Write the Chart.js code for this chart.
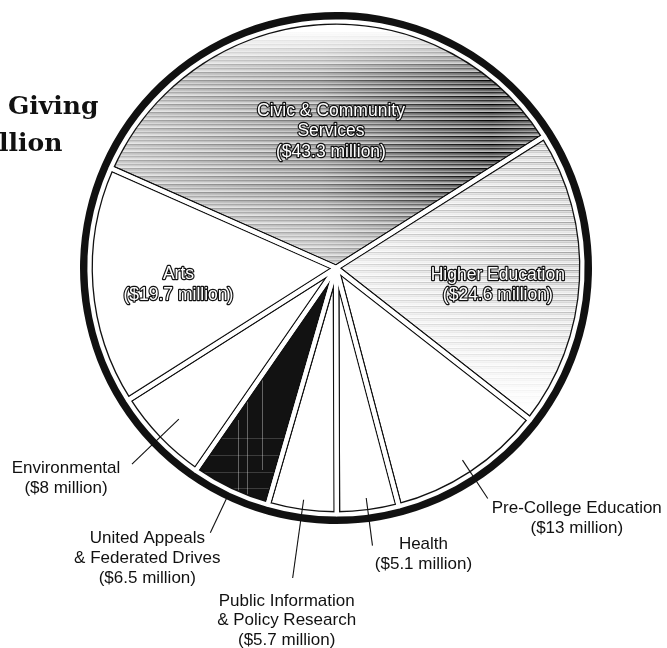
<!DOCTYPE html>
<html>
<head>
<meta charset="utf-8">
<script src="https://cdn.jsdelivr.net/npm/chart.js@4/dist/chart.umd.min.js"></script>
<style>
  html, body { margin: 0; padding: 0; background: #fff; }
  canvas { display: block; }
</style>
</head>
<body>
<canvas id="giving" width="667" height="648"></canvas>
<script>
// Giving by program area, in millions of dollars (clockwise from the top-left)
const categories = [
  'Civic & Community Services',
  'Higher Education',
  'Pre-College Education',
  'Health',
  'Public Information & Policy Research',
  'United Appeals & Federated Drives',
  'Environmental',
  'Arts'
];
const amounts = [43.3, 24.6, 13, 5.1, 5.7, 6.5, 8, 19.7];
const labelLines = [
  ['Civic & Community', 'Services'],
  ['Higher Education'],
  ['Pre-College Education'],
  ['Health'],
  ['Public Information', '& Policy Research'],
  ['United Appeals', '& Federated Drives'],
  ['Environmental'],
  ['Arts']
];
const titleLines = ['Giving', 'llion'];

// ---- label placement (polar radius along each slice's middle angle) ----
const labelLayout = [
  { inside: true, r: 137, dx: 5, dy: 0 },
  { inside: true, r: 162, dx: 0, dy: 9 },
  { r0: 230, r1: 276, dx: 89, dy: 10 },
  { r0: 232, r1: 280, dx: 51, dy: -1 },
  { r0: 234, r1: 313, dx: -6, dy: 23 },
  { r0: 255, r1: 293, dx: -63, dy: 6 },
  { r0: 218, r1: 283, dx: -66, dy: 4 },
  { inside: true, r: 158, dx: 0, dy: 5 }
];

const W = 667, H = 648;
const canvas = document.getElementById('giving');
const ctx = canvas.getContext('2d');

function texture(paint) {
  const c = document.createElement('canvas');
  c.width = W; c.height = H;
  const g = c.getContext('2d');
  paint(g);
  return ctx.createPattern(c, 'no-repeat');
}

// streaky halftone grey for the civic slice: light at the top, darkest on the right
const civicFill = texture(g => {
  g.fillStyle = '#fff';
  g.fillRect(0, 0, W, H);
  for (let y = 0; y < 300; y += 2) {
    const rise = Math.min(1, Math.max(0, (y - 30) / 50));
    const fall = y > 190 ? Math.max(0.6, 1 - (y - 190) / 120) : 1;
    const env = rise * fall;
    const k = y % 8;
    const tone = k === 0 ? 1 : k === 2 ? 0.6 : k === 4 ? 0.85 : 0.4;
    const grad = g.createLinearGradient(100, 0, 590, 0);
    grad.addColorStop(0, `rgba(0,0,0,${0.3 * env * tone})`);
    grad.addColorStop(0.45, `rgba(0,0,0,${0.55 * env * tone})`);
    grad.addColorStop(0.8, `rgba(0,0,0,${0.98 * env * tone})`);
    grad.addColorStop(1, `rgba(0,0,0,${0.75 * env * tone})`);
    g.fillStyle = grad;
    g.fillRect(0, y, W, 1.7);
  }
});

// lighter streaks for higher education, fading out toward the bottom
const higherFill = texture(g => {
  g.fillStyle = '#fff';
  g.fillRect(0, 0, W, H);
  for (let y = 120; y < 440; y += 2) {
    const env = y < 270 ? 1 : Math.max(0, 1 - (y - 270) / 140);
    const k = y % 6;
    const tone = k === 0 ? 1 : k === 2 ? 0.6 : 0.3;
    const grad = g.createLinearGradient(340, 0, 590, 0);
    grad.addColorStop(0, `rgba(0,0,0,${0.14 * env * tone})`);
    grad.addColorStop(1, `rgba(0,0,0,${0.36 * env * tone})`);
    g.fillStyle = grad;
    g.fillRect(0, y, W, 1.4);
  }
});

// near-black for united appeals, with a few scratchy light lines
const unitedFill = texture(g => {
  g.fillStyle = '#121212';
  g.fillRect(0, 0, W, H);
  g.strokeStyle = 'rgba(255,255,255,0.35)';
  g.lineWidth = 1;
  [[238, 420, 505], [247, 400, 505], [262, 380, 470]].forEach(([x, y0, y1]) => {
    g.beginPath(); g.moveTo(x + 0.5, y0); g.lineTo(x + 0.5, y1); g.stroke();
  });
  g.strokeStyle = 'rgba(255,255,255,0.18)';
  [438, 455, 472, 488].forEach(y => {
    g.beginPath(); g.moveTo(200, y + 0.5); g.lineTo(300, y + 0.5); g.stroke();
  });
});

const sliceFills = [civicFill, higherFill, '#ffffff', '#ffffff', '#ffffff', unitedFill, '#ffffff', '#ffffff'];

// white gutters between slices, leaving a thin black outline around each one
const gutters = {
  id: 'gutters',
  afterDatasetsDraw(chart) {
    const meta = chart.getDatasetMeta(1);
    const c = chart.ctx;
    c.save();
    c.strokeStyle = '#ffffff';
    c.lineWidth = 4.2;
    c.lineJoin = 'bevel';
    meta.data.forEach(arc => {
      const { x, y, startAngle, endAngle, outerRadius } =
        arc.getProps(['x', 'y', 'startAngle', 'endAngle', 'outerRadius'], true);
      c.beginPath();
      c.moveTo(x, y);
      c.arc(x, y, outerRadius, startAngle, endAngle);
      c.closePath();
      c.stroke();
    });
    c.restore();
  }
};

const labels = {
  id: 'labels',
  afterDraw(chart) {
    const c = chart.ctx;
    const meta = chart.getDatasetMeta(1);
    c.save();

    // heading fragments
    c.fillStyle = '#111';
    c.font = 'bold 25px "DejaVu Serif", serif';
    c.textAlign = 'left';
    c.textBaseline = 'alphabetic';
    c.fillText(titleLines[0], 8, 114);
    c.fillText(titleLines[1], -1, 151);

    meta.data.forEach((arc, i) => {
      const { x, y, startAngle, endAngle } =
        arc.getProps(['x', 'y', 'startAngle', 'endAngle'], true);
      const mid = (startAngle + endAngle) / 2;
      const cos = Math.cos(mid), sin = Math.sin(mid);
      const L = labelLayout[i];
      const lines = labelLines[i].concat([`($${amounts[i]} million)`]);
      c.textAlign = 'center';
      c.textBaseline = 'middle';

      if (L.inside) {
        const lh = 20.5;
        const cx = x + cos * L.r + L.dx;
        const cy = y + sin * L.r + L.dy - (lines.length - 1) * lh / 2;
        c.font = '17.5px "Liberation Sans", Arial, sans-serif';
        c.lineJoin = 'round';
        c.lineWidth = 2.4;
        c.strokeStyle = '#111';
        c.fillStyle = '#ffffff';
        lines.forEach((t, j) => {
          c.strokeText(t, cx, cy + j * lh);
          c.fillText(t, cx, cy + j * lh);
        });
      } else {
        const x0 = x + cos * L.r0, y0 = y + sin * L.r0;
        const x1 = x + cos * L.r1, y1 = y + sin * L.r1;
        c.strokeStyle = '#111';
        c.lineWidth = 1.1;
        c.beginPath();
        c.moveTo(x0, y0);
        c.lineTo(x1, y1);
        c.stroke();
        const lh = 19.8;
        c.font = '17px "Liberation Sans", Arial, sans-serif';
        c.fillStyle = '#111';
        lines.forEach((t, j) => c.fillText(t, x1 + L.dx, y1 + L.dy + j * lh));
      }
    });
    c.restore();
  }
};

new Chart(canvas, {
  type: 'pie',
  data: {
    labels: categories,
    datasets: [
      {
        // heavy outer rim
        data: [1],
        backgroundColor: '#111',
        borderWidth: 0,
        weight: 9.5
      },
      {
        data: amounts,
        backgroundColor: sliceFills,
        borderColor: '#111',
        borderWidth: 6.8,
        weight: 246.5
      }
    ]
  },
  options: {
    responsive: false,
    animation: false,
    devicePixelRatio: 1,
    events: [],
    radius: 256,
    rotation: -66.1,
    layout: { padding: { left: 5, right: 0, top: 0, bottom: 112 } },
    plugins: {
      legend: { display: false },
      tooltip: { enabled: false }
    }
  },
  plugins: [gutters, labels]
});
</script>
</body>
</html>
